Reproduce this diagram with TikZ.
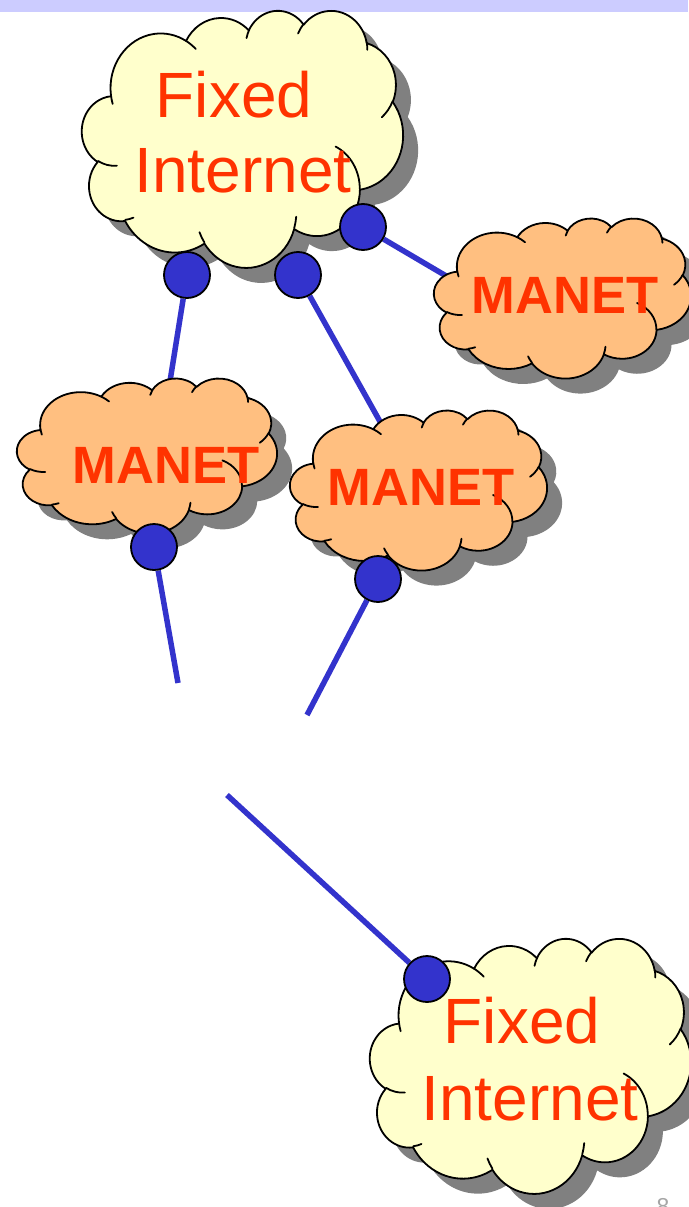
\documentclass[tikz,border=0pt]{standalone}
\usepackage{fontspec}
\setmainfont{Liberation Sans}
\definecolor{band}{HTML}{CCCCFF}
\definecolor{fixedfill}{HTML}{FFFFCC}
\definecolor{manetfill}{HTML}{FFBF80}
\definecolor{cloudshadow}{HTML}{808080}
\definecolor{labelred}{HTML}{FF3300}
\definecolor{linkblue}{HTML}{3333CC}
\definecolor{pagegray}{HTML}{A6A6A6}
\pgfdeclarelayer{back}
\pgfdeclarelayer{links}
\pgfsetlayers{back,links,main}

% arc given with "visual" angles on an ellipse (as in the PowerPoint cloud)
\newcommand\CArc[4]{%
  \pgfmathsetmacro\CAts{atan2((#1)*sin(#3),(#2)*cos(#3))}%
  \pgfmathsetmacro\CAte{atan2((#1)*sin((#3)+(#4)),(#2)*cos((#3)+(#4)))}%
  \pgfmathsetmacro\CAdt{\CAte-\CAts}%
  \pgfmathsetmacro\CAdt{\CAdt-360*round((\CAdt-(#4))/360)}%
  \pgfmathsetmacro\CAte{\CAts+\CAdt}%
  \pgfpatharc{\CAts}{\CAte}{#1pt and #2pt}}

\newcommand\CloudOutline{%
  \pgfpathmoveto{\pgfpoint{39.00pt}{143.70pt}}%
  \CArc{67.53}{91.90}{-190.48748}{123.78053}%
  \CArc{53.33}{72.67}{-144.10238}{89.94523}%
  \CArc{43.65}{59.45}{-145.80792}{99.72302}%
  \CArc{48.57}{65.95}{-130.98607}{117.24173}%
  \CArc{53.33}{72.73}{-78.70888}{109.02692}%
  \CArc{67.75}{92.20}{-46.26725}{130.26900}%
  \CArc{57.85}{78.67}{0.62502}{114.03333}%
  \CArc{67.52}{92.15}{22.45160}{115.17255}%
  \CArc{77.20}{105.43}{66.24263}{75.71102}%
  \CArc{43.60}{59.18}{-274.94208}{146.73557}%
  \CArc{43.45}{59.45}{-246.82850}{152.51885}%
  \pgfpathclose}

\newcommand\CloudCreases{%
  \pgfpathmoveto{\pgfpoint{46.93pt}{261.77pt}}\CArc{43.45}{59.45}{86.74200}{26.42950}%
  \pgfpathmoveto{\pgfpoint{69.28pt}{348.99pt}}\CArc{43.60}{59.18}{73.61047}{11.44747}%
  \pgfpathmoveto{\pgfpoint{164.78pt}{390.90pt}}\CArc{67.52}{92.15}{137.62415}{14.08110}%
  \pgfpathmoveto{\pgfpoint{288.27pt}{347.51pt}}\CArc{67.52}{92.15}{6.45327}{15.99835}%
  \pgfpathmoveto{\pgfpoint{341.29pt}{229.54pt}}\CArc{57.85}{78.67}{-70.29235}{70.91737}%
  \pgfpathmoveto{\pgfpoint{417.98pt}{153.54pt}}\CArc{53.33}{72.73}{30.31803}{27.75150}%
  \pgfpathmoveto{\pgfpoint{383.24pt}{54.26pt}}\CArc{48.57}{65.95}{-13.74433}{14.85890}%
  \pgfpathmoveto{\pgfpoint{290.78pt}{39.52pt}}\CArc{48.57}{65.95}{-149.18145}{18.19537}%
  \pgfpathmoveto{\pgfpoint{221.41pt}{47.20pt}}\CArc{43.65}{59.45}{-163.49427}{17.68635}%
  \pgfpathmoveto{\pgfpoint{140.00pt}{51.92pt}}\CArc{67.53}{91.90}{-66.70695}{12.31935}%
  \pgfpathmoveto{\pgfpoint{41.27pt}{157.89pt}}\CArc{67.53}{91.90}{157.65435}{11.85817}%
}

% #1,#2 = top-left corner (px), #3 = width, #4 = height, #5 = fill colour
\newcommand\DrawCloud[5]{%
  \begin{scope}[shift={(#1+15,#2+15)},xscale=#3/432,yscale=-#4/432]
    \CloudOutline
    \pgfsetfillcolor{cloudshadow}\pgfusepath{fill}
  \end{scope}
  \begin{scope}[shift={(#1,#2)},xscale=#3/432,yscale=-#4/432]
    \pgfsetroundjoin\pgfsetroundcap
    \pgfsetlinewidth{1.8pt}\pgfsetstrokecolor{black}
    \CloudOutline
    \pgfsetfillcolor{#5}\pgfusepath{fill,stroke}
    \CloudCreases
    \pgfusepath{stroke}
  \end{scope}}

\tikzset{
  hub/.style={circle, fill=linkblue, draw=black, line width=1.8pt, minimum size=46pt, inner sep=0pt},
  link/.style={draw=linkblue, line width=5.5pt},
  fixedtext/.style={font=\fontsize{64}{64}\selectfont, text=labelred, anchor=base, inner sep=0pt},
  manettext/.style={font=\bfseries\fontsize{52.5}{52.5}\selectfont, text=labelred, anchor=base, inner sep=0pt},
  pagetext/.style={font=\fontsize{23}{23}\selectfont, text=pagegray, anchor=base, inner sep=0pt}
}

\begin{document}
\begin{tikzpicture}[x=1pt,y=-1pt]
\useasboundingbox (0,0) rectangle (688,1207);
\begin{pgfonlayer}{back}
  \fill[white] (0,0) rectangle (688,1207);
  \fill[band] (0,0) rectangle (688,12);
  \DrawCloud{82}{10}{321}{257}{fixedfill}
\end{pgfonlayer}

% MANET clouds and lower Fixed Internet cloud
\DrawCloud{434}{218}{257}{160}{manetfill}
\DrawCloud{17}{378}{260}{155}{manetfill}
\DrawCloud{290}{410}{257}{160}{manetfill}
\DrawCloud{370}{938}{321}{255}{fixedfill}

% labels
\node[fixedtext] (fiTopA) at (234,117) {Fixed};
\node[fixedtext] (fiTopB) at (243,192) {Internet};
\node[manettext] (manetR) at (565,313) {MANET};
\node[manettext] (manetL) at (166,483) {MANET};
\node[manettext] (manetM) at (421,505) {MANET};
\node[fixedtext] (fiBotA) at (522,1043) {Fixed};
\node[fixedtext] (fiBotB) at (530,1120) {Internet};

% gateway nodes
\node[hub] (h1) at (187,275) {};
\node[hub] (h2) at (298,275) {};
\node[hub] (h3) at (363,227) {};
\node[hub] (h4) at (154,547) {};
\node[hub] (h5) at (378,579) {};
\node[hub] (h6) at (427,979) {};

% link ends
\coordinate (lEnd) at (167,400);
\coordinate (mEnd) at (392,443);
\coordinate (rEnd) at (470,290);
\coordinate (free1) at (178,683);
\coordinate (free2) at (307,715);
\coordinate (free3) at (227,795);

\begin{pgfonlayer}{links}
  \draw[link] (h1) -- (lEnd);
  \draw[link] (h2) -- (mEnd);
  \draw[link] (h3) -- (rEnd);
  \draw[link] (h4) -- (free1);
  \draw[link] (h5) -- (free2);
  \draw[link] (free3) -- (h6);
\end{pgfonlayer}

\node[pagetext] (pagenum) at (663,1214) {8};
\end{tikzpicture}
\end{document}
